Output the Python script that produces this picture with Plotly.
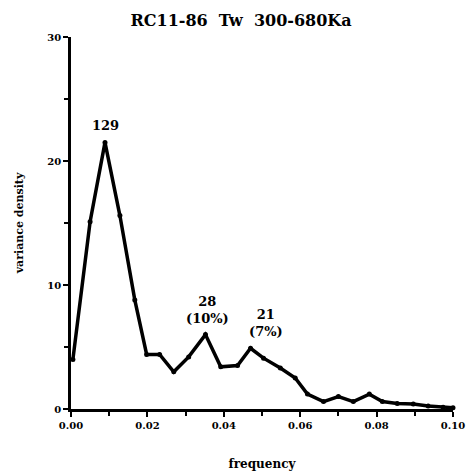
import plotly.graph_objects as go

# Spectral estimate: frequency (cycles/ky) vs variance density
frequency = [0.0005, 0.0050, 0.0089, 0.0128, 0.0167, 0.0198, 0.0232, 0.0269,
             0.0308, 0.0352, 0.0392, 0.0436, 0.0470, 0.0504, 0.0548, 0.0587,
             0.0619, 0.0661, 0.0700, 0.0739, 0.0781, 0.0815, 0.0854, 0.0896,
             0.0935, 0.0974, 0.1000]
variance_density = [4.0, 15.1, 21.5, 15.6, 8.8, 4.4, 4.4, 3.0,
                    4.2, 6.0, 3.4, 3.5, 4.9, 4.1, 3.3, 2.5,
                    1.2, 0.6, 1.0, 0.6, 1.2, 0.6, 0.45, 0.4,
                    0.25, 0.15, 0.1]

# Labelled spectral peaks: (index into series, label text, horizontal nudge)
peak_index = [2, 9, 12]
peak_text = ["129", "28<br>(10%)", "21<br>(7%)"]
peak_xshift = [0, 2, 15]

x_ticks = [0.00, 0.02, 0.04, 0.06, 0.08, 0.10]
x_ticklabels = ["0.00", "0.02", "0.04", "0.06", "0.08", "0.10"]
y_ticks = [0, 10, 20, 30]
y_ticklabels = ["0", "10", "20", "30"]

FONT = "DejaVu Serif"

fig = go.Figure()
fig.add_trace(go.Scatter(
    x=frequency, y=variance_density, mode="lines+markers",
    line=dict(color="black", width=3.5),
    marker=dict(color="black", size=5),
    cliponaxis=False, showlegend=False,
))

for i, txt, dx in zip(peak_index, peak_text, peak_xshift):
    fig.add_annotation(
        x=frequency[i], y=variance_density[i], text="<b>" + txt + "</b>",
        showarrow=False, yanchor="bottom", yshift=7, xshift=dx,
        font=dict(family=FONT, size=13, color="black"),
    )

axis_common = dict(
    showgrid=False, zeroline=False, showline=True, linecolor="black",
    linewidth=2.5, ticks="outside", tickcolor="black", tickwidth=2,
    ticklen=5, tickfont=dict(family=FONT, size=10, color="black"),
    minor=dict(ticks="outside", ticklen=4, tickwidth=2, tickcolor="black"),
    automargin=False,
)

fig.update_layout(
    width=469, height=474,
    margin=dict(l=71, r=16, t=37, b=65),
    paper_bgcolor="white", plot_bgcolor="white",
    title=dict(text="<b>RC11-86  Tw  300-680Ka</b>", x=0.514, xanchor="center",
               y=0.956, yanchor="middle",
               font=dict(family=FONT, size=16, color="black")),
    xaxis=dict(axis_common, range=[0, 0.1], tickvals=x_ticks,
               ticktext=["<b>" + t + "</b>" for t in x_ticklabels],
               minor=dict(axis_common["minor"], dtick=0.01, tick0=0),
               title=dict(text="<b>frequency</b>", standoff=30,
                          font=dict(family=FONT, size=12, color="black"))),
    yaxis=dict(axis_common, range=[0, 30], tickvals=y_ticks,
               ticktext=["<b>" + t + "</b>" for t in y_ticklabels],
               minor=dict(axis_common["minor"], dtick=5, tick0=0),
               title=dict(text="<b>variance density</b>", standoff=22,
                          font=dict(family=FONT, size=11, color="black"))),
)

fig.write_html("out.html")
